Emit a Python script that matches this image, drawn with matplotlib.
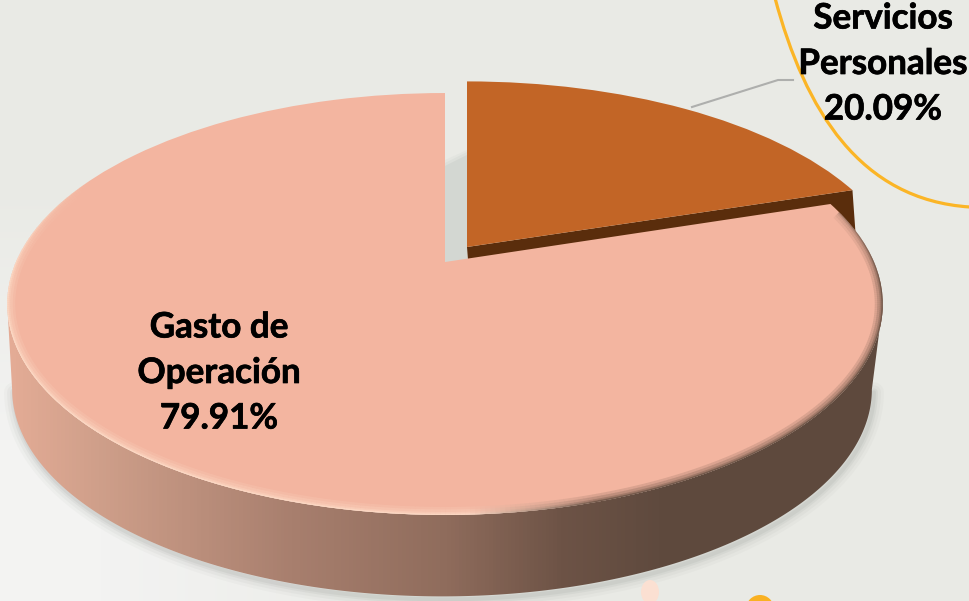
import numpy as np
import matplotlib
matplotlib.use("Agg")
import matplotlib.pyplot as plt
import matplotlib.patheffects as pe
import matplotlib.transforms as mtransforms
from matplotlib.collections import LineCollection
from matplotlib.colors import LinearSegmentedColormap
from matplotlib.patches import Circle, Ellipse, PathPatch, Polygon
from matplotlib.path import Path

# data
labels = ["Servicios\nPersonales\n20.09%", "Gasto de\nOperación\n79.91%"]
shares = [20.09, 79.91]
colors = ["#c26526", "#f3b5a0"]

# where the tilted pie sits on the 970x601 canvas
CX, CY = 445, 262
RX, RY = 429, 202.6
K = 0.199
DEPTH = 86
side_stops = [(0.0, "#e6ad97"), (0.10, "#cf9f8a"), (0.30, "#a87f6e"), (0.46, "#8f6c5c"),
              (0.58, "#6d5346"), (0.68, "#5f4a3e"), (1.0, "#5e493d")]


class Tilt(mtransforms.Transform):
    # perspective squash of the unit circle, so the pie keeps its true angles
    input_dims = 2
    output_dims = 2
    is_separable = False

    def __init__(self, dx=0, dy=0, scale=1.0, yscale=1.0):
        super().__init__()
        self.dx, self.dy, self.scale, self.yscale = dx, dy, scale, yscale

    def transform_non_affine(self, xy):
        xy = np.asarray(xy, dtype=float)
        w = 1 + K * xy[:, 1]
        x = CX + self.dx + self.scale * RX * xy[:, 0] / w
        y = CY + self.dy - self.scale * self.yscale * RY * xy[:, 1] / w
        return np.column_stack([x, y])


def circle_pts(t):
    return np.column_stack([np.sin(t), np.cos(t)])


fig = plt.figure(figsize=(9.70, 6.01), dpi=100)
ax = fig.add_axes([0, 0, 1, 1])

# background
yy, xx = np.mgrid[0:601, 0:970]
w = np.clip((yy - 180) / 260, 0, 1) * np.clip((480 - xx) / 380, 0, 1)
bg = np.array([233, 234, 229]) + w[..., None] * np.array([10, 9, 13])
ax.imshow(bg / 255, extent=(0, 970, 601, 0), aspect="auto", zorder=0)

wedges, _ = ax.pie(shares, startangle=90, counterclock=False, colors=colors,
                   wedgeprops={"linewidth": 0})
small, main = wedges
base = Tilt()
small_tilt = Tilt(dx=22, dy=-15, yscale=0.98)
small.set_transform(small_tilt + ax.transData)
main.set_transform(base + ax.transData)
small.set_zorder(6)
main.set_zorder(7)

# outlines of the top face and the bottom of the wall
t = np.linspace(0, 2 * np.pi, 721)
ring = circle_pts(t)
lower = ring[ring[:, 1] <= -K]
lower = lower[np.argsort(lower[:, 0])]
bottom_tilt = Tilt(dx=-3, dy=DEPTH, scale=0.982)
top_line = base.transform(lower)
bottom_line = bottom_tilt.transform(lower)

# soft shadow under the wall
for lw, a in [(20, 0.05), (14, 0.07), (8, 0.10), (4, 0.12)]:
    ax.plot(bottom_line[:, 0] + 2, bottom_line[:, 1] + 3, color="#8f938d", lw=lw * 0.72,
            alpha=a, zorder=1, solid_capstyle="round")

# outer wall with its left to right shading
wall = Polygon(np.vstack([top_line, bottom_line[::-1]]), closed=True, transform=ax.transData,
               facecolor="none", edgecolor="none")
ax.add_patch(wall)
cmap = LinearSegmentedColormap.from_list("wall", side_stops)
img = ax.imshow(np.linspace(0, 1, 970)[None, :], extent=(0, 970, 601, 0), aspect="auto",
                cmap=cmap, vmin=0, vmax=1, zorder=2)
img.set_clip_path(wall)

# grey gap between the slices, fading out at its top
for top_l, top_r, col in [(160, 150, "#e3e5e0"), (163, 152, "#dcdfda"), (166, 155, "#d3d7d2")]:
    ax.add_patch(Polygon([(445, top_l), (467, top_r), (467, 262), (445, 264)], closed=True,
                         facecolor=col, edgecolor="none", zorder=3))

# dark cut wall of the small slice, the big slice hides most of it
mid = np.radians(shares[0] / sum(shares) * 360)
corner = small_tilt.transform(np.array([[0, 0], [np.sin(mid), np.cos(mid)]]))
ax.add_patch(Polygon(np.vstack([corner, corner[::-1] + [3, 42]]), closed=True,
                     facecolor="#5a2d0c", edgecolor="none", zorder=4))

# bevel along the front rim of the big slice
th = np.linspace(np.radians(75), np.radians(345), 500)
rim = base.transform(circle_pts(th))
segs = np.stack([rim[:-1], rim[1:]], axis=1)
strength = np.clip((0.45 - np.cos(th[:-1])) / 0.55, 0, 1)
dark = np.clip((rim[:-1, 0] - 470) / 130, 0, 1)
rim_rgb = (1 - dark[:, None]) * np.array([1.0, 0.87, 0.79]) + dark[:, None] * np.array([0.37, 0.29, 0.24])
for lw, a in [(16, 0.16), (11, 0.22), (6, 0.30), (3, 0.45), (1.5, 0.6)]:
    rgba = np.column_stack([rim_rgb, strength * a])
    lc = LineCollection(segs, colors=rgba, linewidths=lw * 0.72, zorder=8, capstyle="butt")
    ax.add_collection(lc)
    lc.set_clip_path(main)

# yellow callout curve, leader line, decorations
curve = Path([(775, -2), (805, 110), (860, 200), (970, 207)],
             [Path.MOVETO, Path.CURVE4, Path.CURVE4, Path.CURVE4])
ax.add_patch(PathPatch(curve, facecolor="none", edgecolor="#fbb526", lw=2.3, zorder=9))
ax.plot([692, 778, 793], [107, 80, 80], color="#aeafad", lw=1.5, zorder=9)
ax.add_patch(Circle((760, 609), 14, facecolor="#f9b122", edgecolor="none", zorder=1))
ax.add_patch(Ellipse((650, 592), 18, 24, facecolor="#fbe0d2", edgecolor="none", zorder=1))

# labels, a hairline stroke brings Lato up to the weight of the original
font = {"family": "Lato", "weight": "bold", "size": 25.2, "color": "black",
        "ha": "center", "va": "center", "linespacing": 1.52, "zorder": 10,
        "path_effects": [pe.withStroke(linewidth=0.5, foreground="black")]}
ax.text(883, 64, labels[0], **font)
ax.text(219, 373, labels[1], **font)

ax.set_xlim(0, 970)
ax.set_ylim(601, 0)
ax.set_aspect("auto")
ax.axis("off")

fig.savefig("out.png", dpi=100)
